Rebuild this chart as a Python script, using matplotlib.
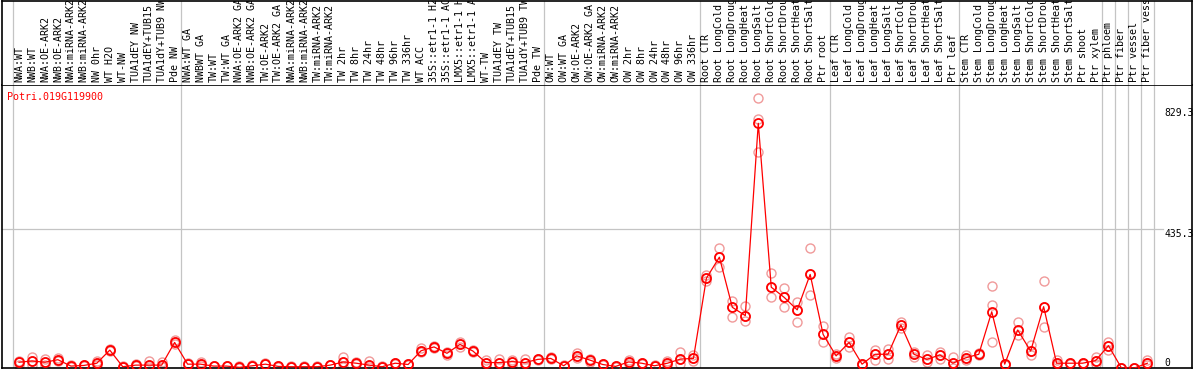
import matplotlib
matplotlib.use("Agg")
import matplotlib.pyplot as plt

# sample labels (one per column, left to right)
samples = [
    "NWA:WT", "NWB:WT", "NWA:OE-ARK2", "NWB:OE-ARK2", "NWA:miRNA-ARK2",
    "NWB:miRNA-ARK2", "NW 0hr", "WT H2O", "WT-NW", "TUA1dEY NW",
    "TUA1dEY+TUB15", "TUA1dY+TUB9 NW", "Pde NW",
    "NWA:WT GA", "NWBWT GA", "TW:WT", "TW:WT GA", "NWA:OE-ARK2 GA",
    "NWB:OE-ARK2 GA", "TW:OE-ARK2", "TW:OE-ARK2 GA", "NWA:miRNA-ARK2",
    "NWB:miRNA-ARK2", "TW:miRNA-ARK2", "TW:miRNA-ARK2", "TW 2hr", "TW 8hr",
    "TW 24hr", "TW 48hr", "TW 96hr", "TW 336hr", "WT ACC", "35S::etr1-1 H2",
    "35S::etr1-1 AC", "LMX5::etr1-1 H", "LMX5::etr1-1 A", "WT-TW",
    "TUA1dEY TW", "TUA1dEY+TUB15", "TUA1dY+TUB9 TW", "Pde TW",
    "OW:WT", "OW:WT GA", "OW:OE-ARK2", "OW:OE-ARK2 GA", "OW:miRNA-ARK2",
    "OW:miRNA-ARK2", "OW 2hr", "OW 8hr", "OW 24hr", "OW 48hr", "OW 96hr",
    "OW 336hr",
    "Root CTR", "Root LongCold", "Root LongDroug", "Root LongHeat",
    "Root LongSalt", "Root ShortCold", "Root ShortDrou", "Root ShortHeat",
    "Root ShortSalt", "Ptr root",
    "Leaf CTR", "Leaf LongCold", "Leaf LongDroug", "Leaf LongHeat",
    "Leaf LongSalt", "Leaf ShortCold", "Leaf ShortDrou", "Leaf ShortHeat",
    "Leaf ShortSalt", "Ptr leaf",
    "Stem CTR", "Stem LongCold", "Stem LongDroug", "Stem LongHeat",
    "Stem LongSalt", "Stem ShortCold", "Stem ShortDrou", "Stem ShortHeat",
    "Stem ShortSalt", "Ptr shoot", "Ptr xylem",
    "Ptr phloem", "Ptr fiber", "Ptr vessel", "Ptr fiber vess",
]

# mean expression per sample
means = [
    18, 22, 18, 26, 6, 8, 15, 56, 4, 9, 9, 9, 80,
    12, 12, 6, 6, 2, 7, 12, 5, 4, 4, 4, 9, 19, 15, 9, 4, 15, 11, 54, 66,
    46, 74, 53, 17, 17, 20, 17, 27,
    30, 7, 38, 25, 11, 5, 19, 15, 7, 15, 28, 30,
    281, 347, 190, 164, 766, 253, 221, 182, 293, 105,
    38, 80, 12, 43, 43, 135, 43, 27, 41, 15,
    32, 43, 176, 12, 119, 53, 192, 15, 15, 15, 23,
    70, 0, 0, 15,
]

# replicate values per sample
reps = [
    [10, 18, 22], [9, 22, 33], [9, 18, 28], [22, 26, 30], [4, 6, 8],
    [6, 8, 10], [10, 15, 22], [52, 56, 60], [3, 4, 5], [6, 9, 13],
    [4, 9, 22], [4, 9, 20], [75, 80, 88],
    [12, 13, 15], [6, 12, 20], [5, 6, 7], [5, 6, 7], [1, 2, 6], [6, 7, 8],
    [12, 13, 15], [4, 5, 6], [3, 4, 6], [3, 4, 5], [3, 4, 5], [8, 9, 10],
    [4, 19, 33], [12, 15, 18], [4, 9, 22], [3, 4, 5], [13, 15, 17],
    [10, 11, 13], [50, 54, 64], [62, 66, 70], [41, 46, 51], [67, 74, 82],
    [50, 53, 56], [6, 17, 25], [4, 17, 28], [9, 20, 25], [4, 17, 28],
    [25, 27, 29],
    [28, 30, 35], [5, 7, 9], [30, 38, 48], [20, 25, 28], [10, 11, 13],
    [4, 5, 6], [14, 19, 25], [13, 15, 17], [5, 7, 9], [9, 15, 22],
    [14, 28, 51], [22, 30, 40],
    [271, 281, 292], [315, 347, 375], [159, 190, 211], [148, 164, 194],
    [677, 780, 845], [221, 253, 296], [190, 221, 250], [143, 182, 208],
    [229, 293, 375], [82, 105, 132],
    [30, 38, 45], [65, 80, 96], [10, 12, 14], [25, 43, 56], [28, 43, 59],
    [124, 135, 145], [34, 43, 50], [19, 27, 40], [29, 41, 50], [0, 15, 34],
    [25, 32, 40], [40, 43, 46], [82, 197, 257], [10, 12, 14],
    [103, 119, 145], [40, 53, 71], [129, 192, 272], [10, 15, 25],
    [13, 15, 17], [13, 15, 17], [12, 23, 34],
    [56, 70, 82], [0, 0, 0], [0, 0, 0], [10, 15, 25],
]

# group separators (between columns)
group_edges = [-0.5, 12.5, 40.5, 52.5, 62.5, 72.5, 83.5, 84.5, 85.5, 86.5, 87.5]
y_ticks = [0, 435.3, 829.3]
gene = "Potri.019G119900"

W, H = 1194, 370
fig = plt.figure(figsize=(W / 100, H / 100), dpi=100)

x0, x1 = 2 / W, 1192 / W
ax = fig.add_axes([x0, 2 / H, x1 - x0, 283 / H])
ax_lab = fig.add_axes([x0, 285 / H, x1 - x0, 84.5 / H])

xlim = (-1.31, 90.44)
grid_c = "#c4c4c4"
mono = "DejaVu Sans Mono"

for a in (ax, ax_lab):
    a.set_xlim(*xlim)
    a.set_xticks([])
    a.set_yticks([])
    for s in a.spines.values():
        s.set_color("black")
        s.set_linewidth(1.2)
    for e in group_edges:
        a.axvline(e, color=grid_c, lw=0.9, zorder=0)
ax_lab.spines["bottom"].set_visible(False)
ax_lab.set_ylim(0, 1)

ax.set_ylim(0, 886)
ax.axhline(435.3, xmax=0.976, color=grid_c, lw=0.9, zorder=0)

# replicates
for i, r in enumerate(reps):
    ax.plot([i] * len(r), r, linestyle="none", marker="o", ms=6.5,
            mfc="none", mec="#f09a9a", mew=1.0, zorder=2, clip_on=True)

# mean line + markers
xs = list(range(len(means)))
ax.plot(xs, means, color="red", lw=0.9, zorder=3)
ax.plot(xs, means, linestyle="none", marker="o", ms=6.5, mfc="none",
        mec="red", mew=1.3, zorder=4)

# y labels on the right
for v in y_ticks:
    off = -5 if v > 800 else 0
    ax.annotate("0" if v == 0 else f"{v:g}", (0.9765, v),
                xycoords=ax.get_yaxis_transform(), xytext=(0, off),
                textcoords="offset pixels", ha="left",
                va="bottom" if v == 0 else "top", fontsize=7,
                family=mono, color="black")

ax.text(0.0042, 0.957, gene, transform=ax.transAxes, ha="left", va="center",
        fontsize=7.2, family=mono, color="red")

# column labels
for i, name in enumerate(samples):
    ax_lab.text(i, 0.035, name, rotation=90, ha="center", va="bottom",
                fontsize=7.2, family=mono, color="black", clip_on=True)

fig.savefig("out.png", dpi=100)
